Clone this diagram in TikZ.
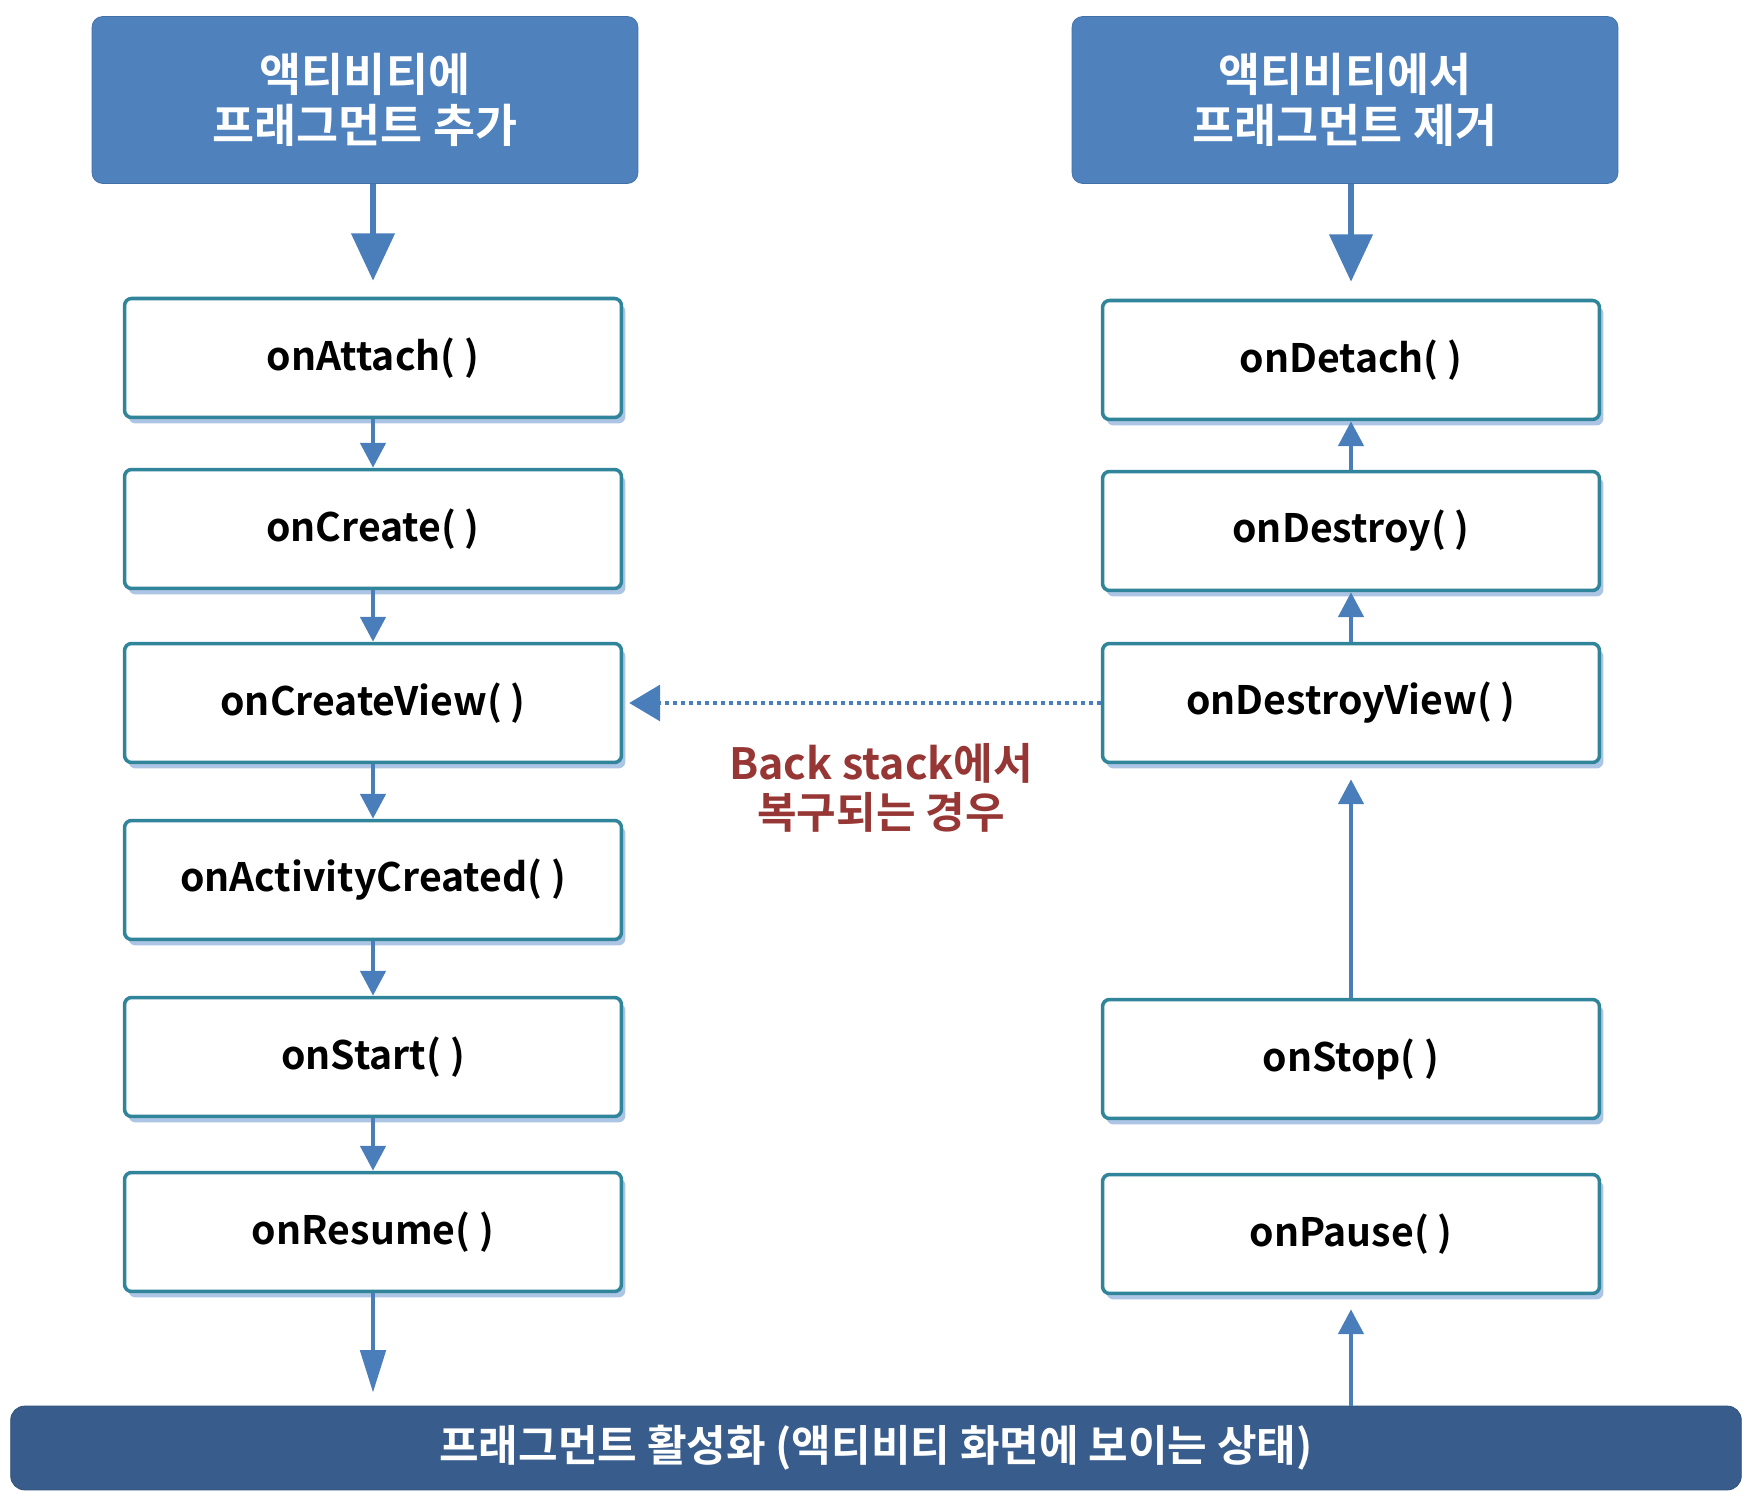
\documentclass[tikz,border=0pt]{standalone}
\usepackage{fontspec}
\setmainfont{Noto Sans CJK KR}[BoldFont=* Bold]
\usetikzlibrary{arrows.meta,shadows}
\definecolor{hdrblue}{RGB}{79,129,189}
\definecolor{hdredge}{RGB}{66,112,168}
\definecolor{barblue}{RGB}{56,93,140}
\definecolor{boxedge}{RGB}{49,133,155}
\definecolor{shadowblue}{RGB}{172,197,228}
\definecolor{arrowblue}{RGB}{74,126,187}
\definecolor{notered}{RGB}{150,55,53}
\tikzset{
  hdr/.style={draw=hdredge,fill=hdrblue,rounded corners=6pt,minimum width=10.92cm,minimum height=3.34cm,
    text=white,align=center,font=\fontsize{26}{29}\selectfont\bfseries},
  cb/.style={draw=boxedge,line width=2pt,fill=white,rounded corners=4pt,minimum width=9.94cm,minimum height=2.38cm,
    font=\fontsize{22.3}{26}\selectfont\bfseries,
    drop shadow={shadow xshift=0.08cm,shadow yshift=-0.12cm,fill=shadowblue,opacity=1}},
  bar/.style={fill=barblue,draw=barblue!85!black,rounded corners=8pt,minimum width=34.62cm,minimum height=1.68cm,
    text=white,font=\fontsize{24.5}{28}\selectfont\bfseries},
  note/.style={text=notered,align=center,font=\fontsize{24.5}{28}\selectfont\bfseries},
  flow/.style={draw=arrowblue,line width=2.8pt,-{Triangle[length=0.5cm,width=0.5cm]}},
  bigflow/.style={draw=arrowblue,line width=3.6pt,-{Triangle[length=0.95cm,width=0.85cm]}},
  backflow/.style={draw=arrowblue,line width=2pt,dash pattern=on 0.08cm off 0.08cm,
    -{Triangle[length=0.62cm,width=0.72cm]}},
}
\begin{document}
\begin{tikzpicture}[x=0.02cm,y=-0.02cm]
\useasboundingbox (0,0) rectangle (1762,1506);
% headers
\node[hdr] (addhdr) at (365,100) {액티비티에\\프래그먼트 추가};
\node[hdr] (remhdr) at (1345,100) {액티비티에서\\프래그먼트 제거};
% left column: fragment added
\node[cb] (attach) at (373,358) {onAttach( )};
\node[cb] (create) at (373,529) {onCreate( )};
\node[cb] (createview) at (373,703) {onCreateView( )};
\node[cb] (actcreated) at (373,880) {onActivityCreated( )};
\node[cb] (start) at (373,1057) {onStart( )};
\node[cb] (resume) at (373,1232) {onResume( )};
% right column: fragment removed
\node[cb] (detach) at (1351,360) {onDetach( )};
\node[cb] (destroy) at (1351,531) {onDestroy( )};
\node[cb] (destroyview) at (1351,703) {onDestroyView( )};
\node[cb] (stop) at (1351,1059) {onStop( )};
\node[cb] (pause) at (1351,1234) {onPause( )};
% bottom bar
\node[bar] (active) at (876,1448) {프래그먼트 활성화 (액티비티 화면에 보이는 상태)};
% back stack note
\node[note] (backnote) at (881,788) {Back stack에서\\복구되는 경우};
% arrows
\draw[bigflow,shorten >=0.32cm] (addhdr.south -| attach) -- (attach.north);
\draw[bigflow,shorten >=0.34cm] (remhdr.south -| detach) -- (detach.north);
\foreach \a/\b in {attach/create,create/createview,createview/actcreated,actcreated/start,start/resume}
  \draw[flow] (\a) -- (\b);
\draw[flow,-{Triangle[length=0.85cm,width=0.5cm]},shorten >=0.26cm] (resume) -- (active.north -| resume);
\foreach \a/\b in {destroy/detach,destroyview/destroy}
  \draw[flow] (\a) -- (\b);
\draw[flow,shorten >=0.3cm] (stop) -- (destroyview);
\draw[flow,shorten >=0.28cm] (active.north -| pause) -- (pause);
\draw[backflow,shorten >=0.12cm] (destroyview) -- (createview);
\end{tikzpicture}
\end{document}
